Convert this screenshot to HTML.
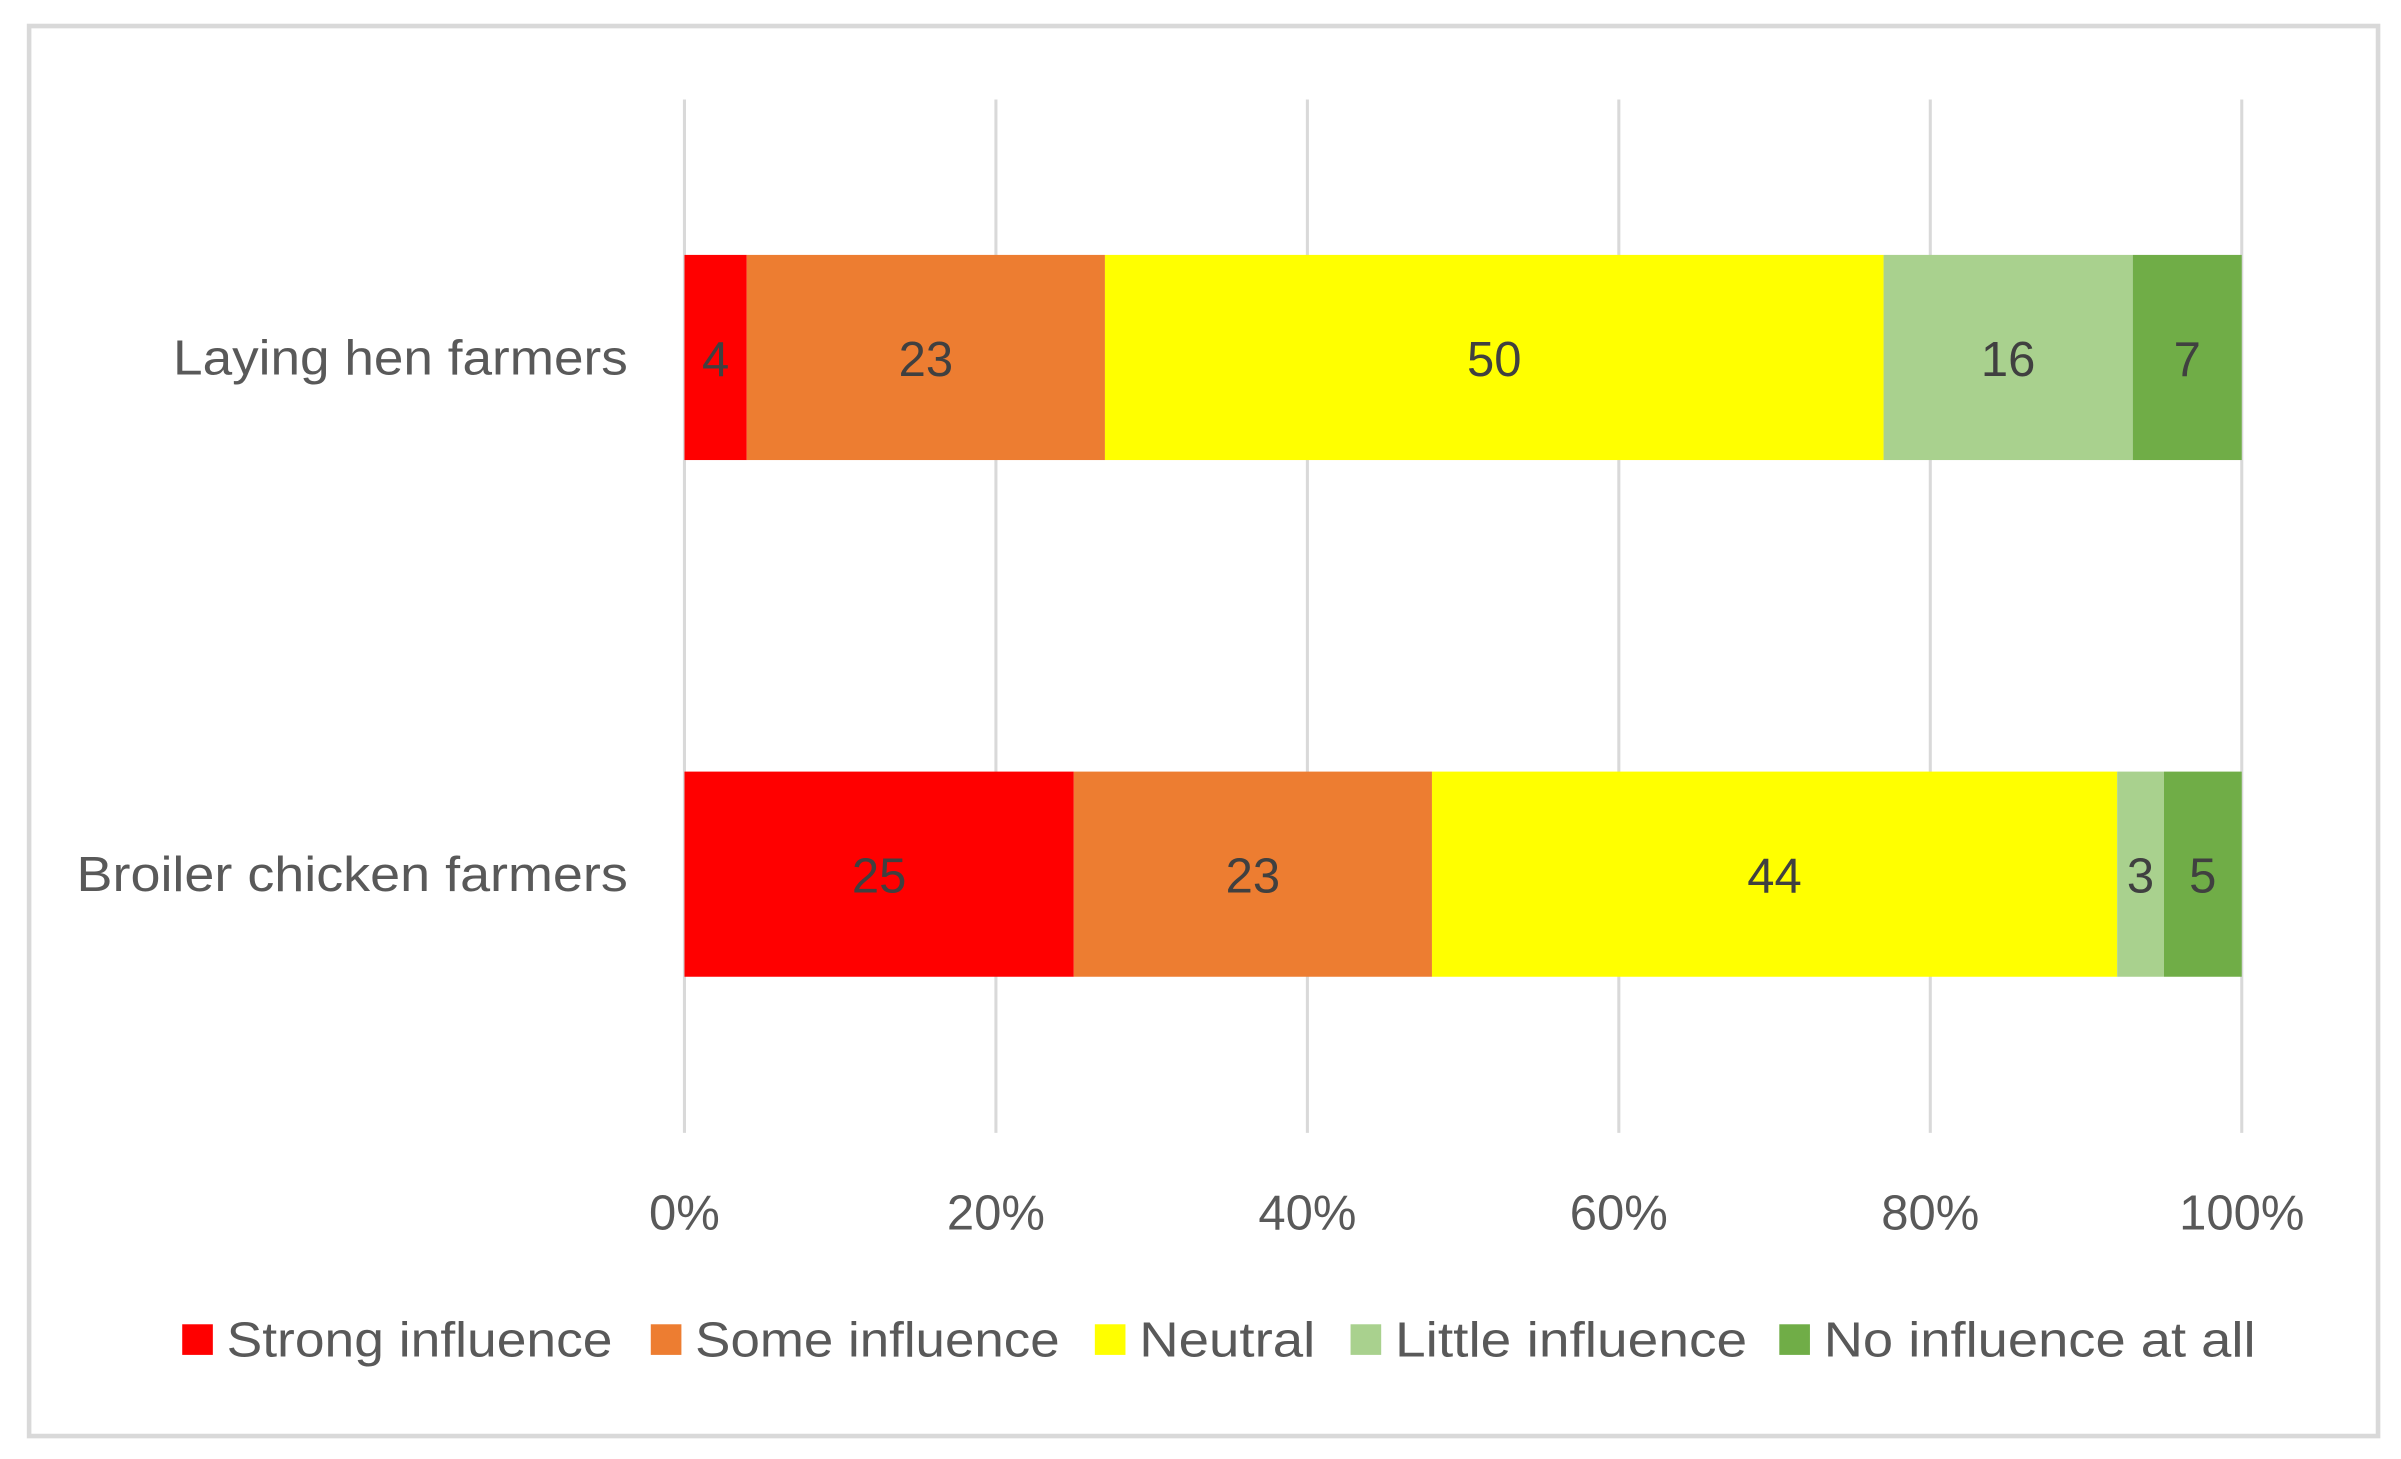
<!DOCTYPE html>
<html><head><meta charset="utf-8"><style>
html,body{margin:0;padding:0;background:#fff;}
svg{display:block;}
text{font-family:"Liberation Sans",sans-serif;}
</style></head><body>
<svg id="chart" width="2401" height="1459" viewBox="0 0 1568 953" preserveAspectRatio="none">
<rect x="19" y="17" width="1534" height="921" fill="#fff" stroke="#d9d9d9" stroke-width="3"/>
<g id="grid"></g><g id="bars"></g><g id="labels"></g><g id="legend"></g>
</svg>
<script>
const categories = ["Laying hen farmers", "Broiler chicken farmers"];
const seriesNames = ["Strong influence", "Some influence", "Neutral", "Little influence", "No influence at all"];
const strongVals = [4, 25];
const someVals = [23, 23];
const neutralVals = [50, 44];
const littleVals = [16, 3];
const noneVals = [7, 5];
const tickLabels = ["0%", "20%", "40%", "60%", "80%", "100%"];
const tickValues = [0, 20, 40, 60, 80, 100];
const colors = ["#ff0000", "#ed7d31", "#ffff00", "#a9d18e", "#70ad47"];
const series = [strongVals, someVals, neutralVals, littleVals, noneVals];
const NS = "http://www.w3.org/2000/svg";
const X0 = 447, X1 = 1464;
const x = p => X0 + (X1 - X0) * p / 100;
const yCenters = [233.5, 571];
const barH = 134;
const catWidths = [297, 360];
const legWidths = [252, 238, 115, 230, 282];
function mk(tag, attrs, parent, txt){const e=document.createElementNS(NS,tag);for(const k in attrs)e.setAttribute(k,attrs[k]);if(txt!==undefined)e.textContent=txt;parent.appendChild(e);return e;}
const grid=document.getElementById('grid'), bars=document.getElementById('bars'), labels=document.getElementById('labels'), legend=document.getElementById('legend');
tickValues.forEach((t,i)=>{
  const l=mk('line',{x1:x(t),x2:x(t),y1:65,y2:740,stroke:'#d9d9d9','stroke-width':2},grid);
  
  
  const tx=mk('text',{x:x(t),y:803,'text-anchor':'middle','font-size':32,fill:'#595959'},labels,tickLabels[i]);
  
  
});
categories.forEach((c,ci)=>{
  const total=series.reduce((s,a)=>s+a[ci],0);
  let cum=0;
  const cy=yCenters[ci];
  const lab=mk('text',{x:410,y:cy+11,'text-anchor':'end','font-size':32,fill:'#595959',textLength:catWidths[ci],lengthAdjust:'spacingAndGlyphs'},labels,c);
  
  
  series.forEach((s,si)=>{
    const p0=cum/total*100; cum+=s[ci]; const p1=cum/total*100;
    const r=mk('rect',{x:x(p0),y:cy-barH/2,width:x(p1)-x(p0),height:barH,fill:colors[si]},bars);
    
    
    const v=mk('text',{x:(x(p0)+x(p1))/2,y:cy+12,'text-anchor':'middle','font-size':32,fill:'#404040'},labels,String(s[ci]));
    
    
  });
});
const legX=[119,425,715,882,1162];
seriesNames.forEach((n,i)=>{
  const r=mk('rect',{x:legX[i],y:865,width:20,height:20,fill:colors[i]},legend);
  
  
  const t=mk('text',{x:legX[i]+29,y:886,'font-size':32,fill:'#595959',textLength:legWidths[i],lengthAdjust:'spacingAndGlyphs'},legend,n);
  
  
});
</script>
</body></html>
